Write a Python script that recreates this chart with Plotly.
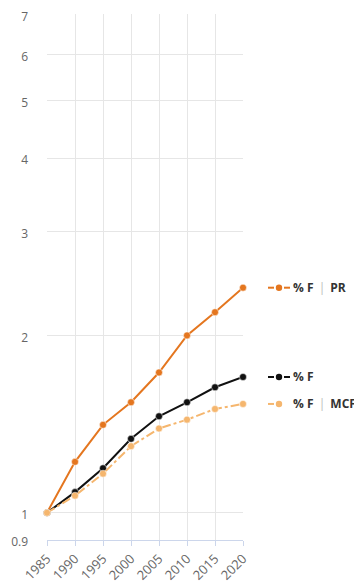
import math
import plotly.graph_objects as go

years = [1985, 1990, 1995, 2000, 2005, 2010, 2015, 2020]
pct_f_pr = [1.0, 1.22, 1.41, 1.54, 1.73, 2.0, 2.19, 2.41]
pct_f = [1.0, 1.084, 1.19, 1.335, 1.458, 1.54, 1.633, 1.70]
pct_f_mcf = [1.0, 1.069, 1.165, 1.297, 1.39, 1.439, 1.50, 1.53]
y_ticks = [0.9, 1, 2, 3, 4, 5, 6, 7]
series_names = ["% F | PR", "% F", "% F | MCF"]

c_pr = "#e4761f"
c_f = "#111111"
c_mcf = "#f5b66e"

Y0, Y1 = math.log10(0.9) - 0.0005, math.log10(7) + 0.0015

# page has an 8px body margin; compensate
OFF = 8
W, H = 362 - OFF, 587 - OFF
ML, MR, MT, MB = 47 - OFF, 119, 14 - OFF, 47

fig = go.Figure()
for vals, col, dash, name in [
    (pct_f_pr, c_pr, "solid", series_names[0]),
    (pct_f, c_f, "solid", series_names[1]),
    (pct_f_mcf, c_mcf, "dashdot", series_names[2]),
]:
    fig.add_trace(go.Scatter(
        x=years, y=vals, mode="lines+markers", name=name,
        line=dict(color=col, width=2, dash=dash),
        marker=dict(color=col, size=7, line=dict(color="white", width=0.5)),
        showlegend=False, cliponaxis=False,
    ))

label_y = [pct_f_pr[-1], pct_f[-1], pct_f_mcf[-1]]
label_cols = [c_pr, c_f, c_mcf]
right_seg = [True, True, False]
plot_w = W - ML - MR
plot_h = H - MT - MB
def px(x):
    return (x - 47) / plot_w
for name, yv, col, rs in zip(series_names, label_y, label_cols, right_seg):
    py = (math.log10(yv) - Y0) / (Y1 - Y0)
    fig.add_shape(type="line", xref="paper", yref="paper", x0=px(268), x1=px(274), y0=py, y1=py,
                  line=dict(color=col, width=2))
    if rs:
        fig.add_shape(type="line", xref="paper", yref="paper", x0=px(284), x1=px(290), y0=py, y1=py,
                      line=dict(color=col, width=2))
    r = 3.2
    fig.add_shape(type="circle", xref="paper", yref="paper", x0=px(279 - r), x1=px(279 + r),
                  y0=py - r / plot_h, y1=py + r / plot_h, fillcolor=col, line=dict(color=col, width=0))
    parts = name.split("|")
    if len(parts) == 2:
        txt = ("<b>" + parts[0].strip() + "</b> \u2009<span style='color:#bbbbbb'>|</span> \u2009<b>"
               + parts[1].strip() + "</b>")
    else:
        txt = "<b>" + name + "</b>"
    fig.add_annotation(xref="paper", yref="paper", x=px(291), y=py, text=txt, showarrow=False,
                       xanchor="left", yanchor="middle",
                       font=dict(size=12, color="#333333", family="Open Sans"))

fig.update_layout(
    width=W, height=H,
    margin=dict(l=ML, r=MR, t=MT, b=MB),
    paper_bgcolor="white", plot_bgcolor="white",
    font=dict(family="Open Sans", color="#666666", size=12),
)
fig.update_xaxes(
    range=[1985, 2020], tickvals=years, ticktext=[str(y) for y in years],
    tickangle=-45, showgrid=True, gridcolor="#e6e6e6", gridwidth=1,
    showline=True, linecolor="#ccd6eb", ticks="outside", tickcolor="#ccd6eb", ticklen=5,
    zeroline=False, tickfont=dict(size=13, color="#666666"), automargin=False,
)
fig.update_yaxes(
    type="log", range=[Y0, Y1],
    tickvals=y_ticks, ticktext=[str(v) for v in y_ticks],
    showgrid=True, gridcolor="#e6e6e6", gridwidth=1, zeroline=False,
    showline=False, ticks="", ticklabelstandoff=18, ticklabeloverflow="allow",
    ticklabelshift=2,
    tickfont=dict(size=12, color="#666666"), automargin=False,
)
fig.write_html("out.html")
